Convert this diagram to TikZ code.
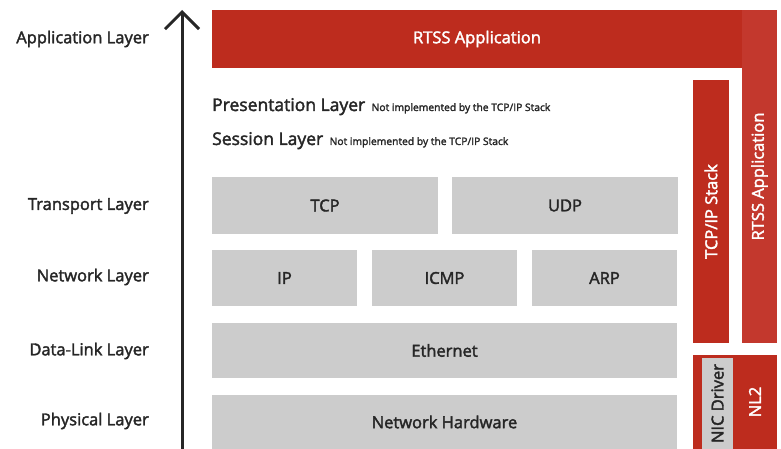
\documentclass[tikz,border=0pt]{standalone}
\usepackage{fontspec}
\setmainfont{Open Sans}
\newfontfamily\medfont{Open Sans}[FakeBold=2.2]
\usetikzlibrary{arrows.meta, positioning}
\definecolor{rtssred}{RGB}{189,44,30}
\definecolor{rtsslight}{RGB}{195,56,45}
\definecolor{blockgrey}{RGB}{204,204,204}
\definecolor{textdark}{RGB}{38,38,38}

\tikzset{
	layer/.style={font=\medfont\fontsize{16.5}{18}\selectfont, text=textdark, anchor=east, inner sep=0pt},
	block/.style={fill=blockgrey, inner sep=0pt, text=textdark, font=\medfont\fontsize{16.5}{18}\selectfont},
	redbar/.style={fill=rtssred, inner sep=0pt, text=white, font=\medfont\fontsize{16.5}{18}\selectfont},
	title/.style={inner sep=0pt, anchor=base west, text=textdark, font=\medfont\fontsize{17.5}{19}\selectfont},
	note/.style={font=\medfont\fontsize{10.3}{12}\selectfont, text=textdark, inner sep=0pt, anchor=base west}
}

\begin{document}
\begin{tikzpicture}[x=1pt, y=-1pt]
		\useasboundingbox (0,0) rectangle (781,449);
		% osi layer names
		\node[layer] (lapp) at (149,39) {Application Layer};
		\node[layer] (ltra) at (149,206) {Transport Layer};
		\node[layer] (lnet) at (149,277) {Network Layer};
		\node[layer] (llnk) at (149,351) {Data-Link Layer};
		\node[layer] (lphy) at (149,421) {Physical Layer};
		
		\coordinate (abot) at (182,449);
		\coordinate (atop) at (182,10);
		\draw[line width=3pt, textdark, -{Straight Barb[length=17pt, width=34pt, line width=3pt]}] (abot) -- (atop);
		
		% rtss application
		\node[redbar, minimum width=530pt, minimum height=58pt] (app) at (477,39) {RTSS Application};
		\node[redbar, fill=rtsslight, rotate=90, minimum width=333pt, minimum height=35pt] (appv) at (759.5,176.5) {RTSS Application};
		
		\node[title] (pres) at (212,111) {Presentation Layer};
		\node[note] (presn) at ([xshift=6pt]pres.base east) {Not implemented by the TCP/IP Stack};
		\node[title] (sess) at (212,145) {Session Layer};
		\node[note] (sessn) at ([xshift=6pt]sess.base east) {Not implemented by the TCP/IP Stack};
		
		% protocol blocks
		\node[block, minimum width=226pt, minimum height=56pt] (tcp) at (325,205.5) {TCP};
		\node[block, minimum width=226pt, minimum height=56pt] (udp) at (565,205.5) {UDP};
		\node[block, minimum width=145pt, minimum height=56pt] (ip) at (284.5,278) {IP};
		\node[block, minimum width=145pt, minimum height=56pt] (icmp) at (444.5,278) {ICMP};
		\node[block, minimum width=145pt, minimum height=56pt] (arp) at (604.5,278) {ARP};
		\node[block, minimum width=465pt, minimum height=55pt] (eth) at (444.5,350.5) {Ethernet};
		\node[block, minimum width=465pt, minimum height=54pt] (hw) at (444.5,422) {Network Hardware};
		
		% stack and driver
		\node[redbar, rotate=90, minimum width=263pt, minimum height=36pt] (stack) at (711,211.5) {TCP/IP Stack};
		\node[redbar, minimum width=84pt, minimum height=94pt] (nicbox) at (735,402) {};
		\node[block, rotate=90, minimum width=91pt, minimum height=31pt] (nic) at (717.5,403.5) {NIC Driver};
		\node[inner sep=0pt, rotate=90, text=white, font=\medfont\fontsize{16.5}{18}\selectfont] (nl2) at (755,402) {NL2};
	\end{tikzpicture}
\end{document}
